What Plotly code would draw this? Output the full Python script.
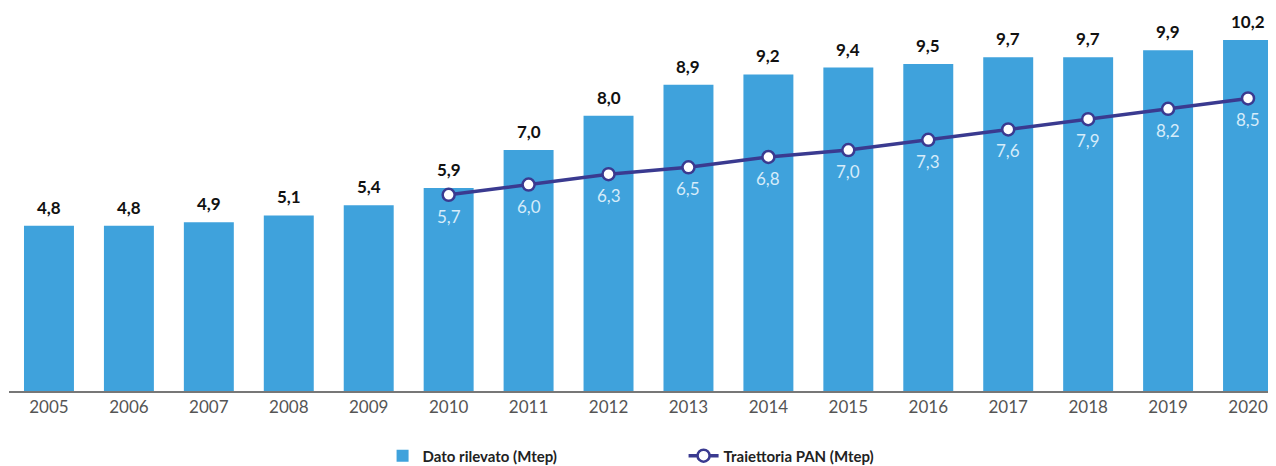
import plotly.graph_objects as go

years = ["2005", "2006", "2007", "2008", "2009", "2010", "2011", "2012",
         "2013", "2014", "2015", "2016", "2017", "2018", "2019", "2020"]
dato_rilevato = [4.8, 4.8, 4.9, 5.1, 5.4, 5.9, 7.0, 8.0, 8.9, 9.2, 9.4, 9.5, 9.7, 9.7, 9.9, 10.2]
pan_years = ["2010", "2011", "2012", "2013", "2014", "2015", "2016", "2017", "2018", "2019", "2020"]
traiettoria_pan = [5.7, 6.0, 6.3, 6.5, 6.8, 7.0, 7.3, 7.6, 7.9, 8.2, 8.5]

FONT = "Lato"


def fmt(v):
    return f"{v:.1f}".replace(".", ",")


fig = go.Figure()
fig.add_trace(go.Bar(
    x=years, y=dato_rilevato, name="Dato rilevato (Mtep)",
    marker=dict(color="#3fa2dc", line=dict(width=0)),
    hoverinfo="x+y",
))
fig.add_trace(go.Scatter(
    x=pan_years, y=traiettoria_pan, name="Traiettoria PAN (Mtep)",
    mode="lines+markers",
    line=dict(color="#3a3a90", width=3.5),
    marker=dict(size=12, color="white", line=dict(color="#3a3a90", width=2.5)),
    cliponaxis=False,
))

annotations = []
for yr, v in zip(years, dato_rilevato):
    annotations.append(dict(
        x=years.index(yr), y=v, xref="x", yref="y", text=f"<b>{fmt(v)}</b>", showarrow=False,
        yanchor="bottom", yshift=6,
        font=dict(family=FONT, size=17, color="#111111"),
    ))
for yr, v in zip(pan_years, traiettoria_pan):
    annotations.append(dict(
        x=years.index(yr), y=v, xref="x", yref="y", text=fmt(v), showarrow=False,
        yanchor="top", yshift=-9,
        font=dict(family=FONT, size=17, color="#d6ecfa"),
    ))

fig.update_layout(
    width=1276, height=466,
    margin=dict(l=1, r=0, t=22, b=83),
    paper_bgcolor="white", plot_bgcolor="white",
    separators=",.",
    bargap=0.375,
    font=dict(family=FONT, color="#333333"),
    showlegend=True,
    annotations=annotations,
    legend=dict(
        orientation="h", x=0.293, xanchor="left", y=-0.18, yanchor="middle",
        entrywidth=256, entrywidthmode="pixels",
        font=dict(family=FONT, size=15, color="#222222", weight="bold"),
        bgcolor="rgba(0,0,0,0)",
    ),
    xaxis=dict(
        type="category", range=[-0.5, 15.45],
        showline=True, linecolor="#777777", linewidth=2,
        ticks="", showgrid=False,
        tickfont=dict(family=FONT, size=17, color="#555555"),
    ),
    yaxis=dict(
        range=[0, 10.49], visible=False, showgrid=False, zeroline=False,
    ),
)

fig.write_html("out.html")
